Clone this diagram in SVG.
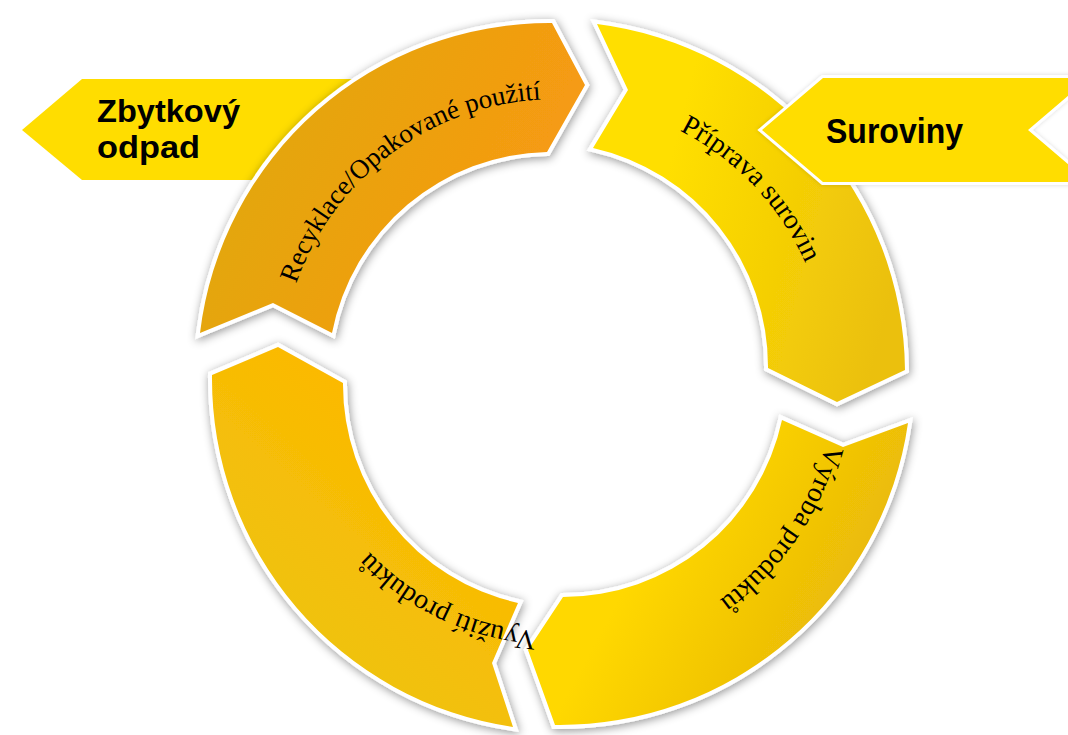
<svg xmlns="http://www.w3.org/2000/svg" width="1068" height="735" viewBox="0 0 1068 735">
<defs>
<style>
.seg{stroke:#fff;stroke-width:8;stroke-linejoin:miter;paint-order:stroke fill;filter:url(#sh)}
.band{fill:#FFDD00}
.lbl{font-family:"Liberation Serif","Times New Roman",serif;font-size:28px;fill:#000}
.big{font-family:"Liberation Sans",Arial,sans-serif;font-weight:bold;font-size:35px;fill:#000}
</style>
<filter id="sh" x="-20%" y="-20%" width="140%" height="140%">
<feGaussianBlur in="SourceAlpha" stdDeviation="5" result="b"/>
<feOffset in="b" dx="1" dy="2" result="o"/>
<feFlood flood-color="#000" flood-opacity="0.42"/>
<feComposite in2="o" operator="in" result="s"/>
<feMerge><feMergeNode in="s"/><feMergeNode in="SourceGraphic"/></feMerge>
</filter>
<filter id="sh2" x="-10%" y="-20%" width="120%" height="140%">
<feGaussianBlur in="SourceAlpha" stdDeviation="2" result="b"/>
<feFlood flood-color="#000" flood-opacity="0.15"/>
<feComposite in2="b" operator="in" result="s"/>
<feMerge><feMergeNode in="s"/><feMergeNode in="SourceGraphic"/></feMerge>
</filter>
<linearGradient id="gRec" gradientUnits="userSpaceOnUse" x1="220" y1="130" x2="500" y2="250">
<stop offset="0" stop-color="#E1A80C"/><stop offset="1" stop-color="#F59B12"/>
</linearGradient>
<linearGradient id="gPri" gradientUnits="userSpaceOnUse" x1="660" y1="200" x2="900" y2="260">
<stop offset="0" stop-color="#FFDF00"/><stop offset="1" stop-color="#EBC00B"/>
</linearGradient>
<linearGradient id="gVyr" gradientUnits="userSpaceOnUse" x1="640" y1="560" x2="860" y2="680">
<stop offset="0" stop-color="#FFD800"/><stop offset="1" stop-color="#E5B30A"/>
</linearGradient>
<linearGradient id="gVyu" gradientUnits="userSpaceOnUse" x1="440" y1="460" x2="270" y2="650">
<stop offset="0" stop-color="#FCB903"/><stop offset="1" stop-color="#EDC40C"/>
</linearGradient>
<path id="tpRec" d="M281.4,359.6 A275,275 0 0 1 617.9,106.1"/>
<path id="tpPri" d="M539.3,101.5 A273,273 0 0 1 827.2,404.9"/>
<path id="tpVyr" d="M824.7,299.0 A279,279 0 0 1 583.2,651.7"/>
<path id="tpVyu" d="M663.4,608.6 A258,258 0 0 1 306.3,439.0"/>
</defs>

<g id="zbytkovy-odpad">
<polygon class="band" points="22,130 82,79 380,79 380,180 82,180"/>
<text class="big" style="font-size:32px"><tspan x="97" y="122" textLength="143" lengthAdjust="spacingAndGlyphs">Zbytkový</tspan><tspan x="97" y="158" textLength="103" lengthAdjust="spacingAndGlyphs">odpad</tspan></text>
</g>

<g id="recyklace">
<path class="seg" fill="url(#gRec)" d="M200,333 A352,352 0 0 1 552,23 L585,85 L547,152 A224,224 0 0 0 332,333 L273,303 Z"/>
<text class="lbl" style="font-size:27px"><textPath href="#tpRec" startOffset="50%" text-anchor="middle">Recyklace/Opakované použití</textPath></text>
</g>

<g id="priprava">
<path class="seg" fill="url(#gPri)" d="M597,24 A352,352 0 0 1 905,370 L837,402 L768,368 A224,224 0 0 0 593,148 L628,90 Z"/>
<text class="lbl"><textPath href="#tpPri" startOffset="50%" text-anchor="middle">Příprava surovin</textPath></text>
</g>

<g id="vyroba">
<path class="seg" fill="url(#gVyr)" d="M908,423 A352,352 0 0 1 555,725 L528,650 L563,597 A224,224 0 0 0 782,420 L843,447 Z"/>
<text class="lbl"><textPath href="#tpVyr" startOffset="50%" text-anchor="middle">Výroba produktů</textPath></text>
</g>

<g id="vyuziti">
<path class="seg" fill="url(#gVyu)" d="M513,727 A352,352 0 0 1 212,375 L278,347 L343,383 A224,224 0 0 0 518,603 L492,663 Z"/>
<text class="lbl"><textPath href="#tpVyu" startOffset="50%" text-anchor="middle">Využití produktů</textPath></text>
</g>

<g id="suroviny">
<polygon class="band" points="762,130 823,78 1089,78 1028,130 1089,182 823,182" stroke="#fff" stroke-width="6" paint-order="stroke fill" stroke-linejoin="miter" filter="url(#sh2)"/>
<text class="big" x="826" y="143" textLength="137" lengthAdjust="spacingAndGlyphs">Suroviny</text>
</g>
</svg>
